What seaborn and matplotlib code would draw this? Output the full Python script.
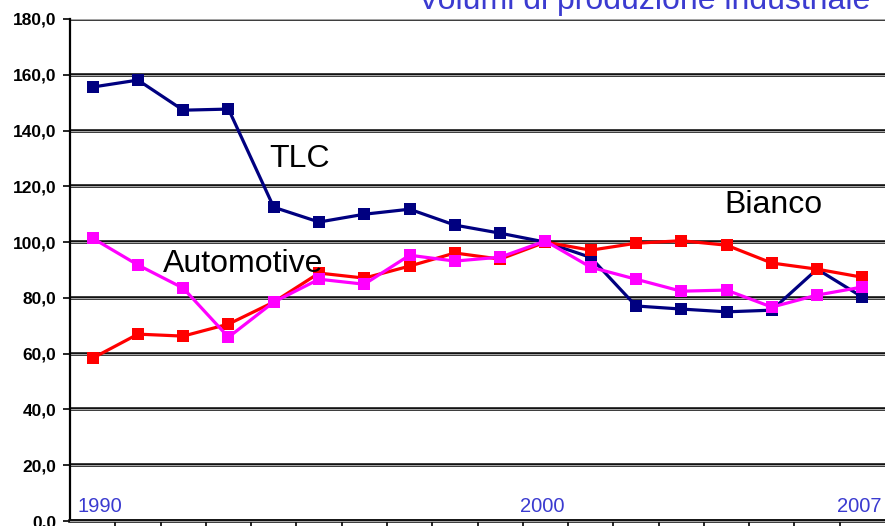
import numpy as np
import pandas as pd
import seaborn as sns
import matplotlib.pyplot as plt
import matplotlib.patheffects as pe
from matplotlib.ticker import FuncFormatter

anni = list(range(1990, 2008))

tlc = [155.6, 158.1, 147.3, 147.7, 112.5, 107.2, 110.0, 111.8, 106.1, 103.2,
       100.0, 94.5, 77.1, 76.0, 75.0, 75.6, 90.3, 80.3]
bianco = [58.4, 67.0, 66.3, 70.6, 78.5, 88.9, 87.1, 91.4, 96.1, 93.9,
          100.0, 97.1, 99.6, 100.5, 98.9, 92.5, 90.3, 87.4]
automotive = [101.4, 91.8, 83.5, 65.9, 78.5, 86.7, 84.9, 95.3, 93.2, 94.6,
              100.4, 91.0, 86.7, 82.4, 82.8, 76.7, 81.0, 83.9]

settori = ['TLC', 'Bianco', 'Automotive']
colori = {'TLC': '#000080', 'Bianco': '#ff0000', 'Automotive': '#ff00ff'}

# etichette dentro il grafico (anno, valore)
etichette = {'TLC': (1993.9, 127), 'Bianco': (2003.95, 110.4), 'Automotive': (1991.55, 89.2)}
anni_label = [1990, 2000, 2007]
anni_label_x = [1989.67, 1999.43, 2006.45]

df = pd.DataFrame({
    'anno': anni * 3,
    'valore': tlc + bianco + automotive,
    'settore': ['TLC'] * 18 + ['Bianco'] * 18 + ['Automotive'] * 18,
})

sns.set_style('white')
plt.rcParams['font.family'] = ['Liberation Sans', 'DejaVu Sans']

fig = plt.figure(figsize=(8.85, 5.26), dpi=100)
ax = fig.add_axes([70 / 885, 1 - 521 / 526, 815 / 885, 502 / 526])

doppia = [pe.Stroke(linewidth=2.6, foreground='#111111'),
          pe.Stroke(linewidth=0.7, foreground='#aaaaaa')]

ax.set_axisbelow(True)
ax.yaxis.grid(True, color='#111111', linewidth=2.6)
for gl in ax.get_ygridlines():
    gl.set_path_effects(doppia)

sns.lineplot(data=df, x='anno', y='valore', hue='settore', hue_order=settori,
             palette=colori, marker='s', markersize=9, markeredgewidth=0,
             linewidth=2.3, legend=False, ax=ax)

ax.set_xlim(1989.5, 2007.5)
ax.set_ylim(0, 180)
ax.set_yticks(np.arange(0, 181, 20))
ax.yaxis.set_major_formatter(FuncFormatter(lambda v, p: f'{v:.1f}'.replace('.', ',')))
ax.set_xticks(np.arange(1990.5, 2007, 1))
ax.set_xticklabels([])
ax.tick_params(axis='y', direction='out', length=5, width=1.2, color='black',
               left=True, pad=5, labelsize=12.5, labelcolor='black')
ax.tick_params(axis='x', direction='out', length=4, width=1.2, color='black', bottom=True)
for lab in ax.get_yticklabels():
    lab.set_fontweight('bold')

ax.set_xlabel('')
ax.set_ylabel('')
for s in ['top', 'right']:
    ax.spines[s].set_visible(False)
ax.spines['left'].set_color('black')
ax.spines['left'].set_linewidth(1.6)
ax.spines['bottom'].set_color('#111111')
ax.spines['bottom'].set_linewidth(2.6)
ax.spines['bottom'].set_path_effects(doppia)

for nome in settori:
    x, y = etichette[nome]
    ax.text(x, y, nome, fontsize=23, color='black', va='baseline', ha='left')

for a, xa in zip(anni_label, anni_label_x):
    ax.text(xa, 3.2, str(a), fontsize=14.5, color='#3b3bd0', ha='left', va='baseline')

fig.text(870 / 885, 1 - 9 / 526, 'Volumi di produzione industriale', fontsize=23,
         color='#3b3bd0', ha='right', va='baseline')

fig.savefig('out.png', dpi=100)
